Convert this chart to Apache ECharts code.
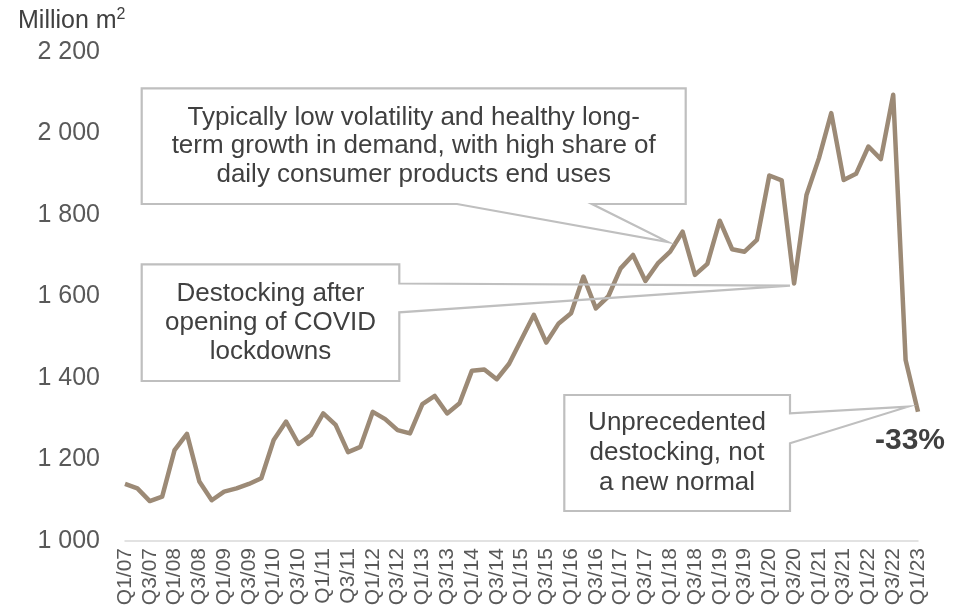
<!DOCTYPE html>
<html>
<head>
<meta charset="utf-8">
<script src="https://cdn.jsdelivr.net/npm/echarts@6/dist/echarts.min.js"></script>
<style>
html,body{margin:0;padding:0;background:#fff;}
#c{width:961px;height:614px;}
</style>
</head>
<body>
<div id="c"></div>
<script>
var categories = ['Q1/07','Q2/07','Q3/07','Q4/07','Q1/08','Q2/08','Q3/08','Q4/08',
'Q1/09','Q2/09','Q3/09','Q4/09','Q1/10','Q2/10','Q3/10','Q4/10',
'Q1/11','Q2/11','Q3/11','Q4/11','Q1/12','Q2/12','Q3/12','Q4/12',
'Q1/13','Q2/13','Q3/13','Q4/13','Q1/14','Q2/14','Q3/14','Q4/14',
'Q1/15','Q2/15','Q3/15','Q4/15','Q1/16','Q2/16','Q3/16','Q4/16',
'Q1/17','Q2/17','Q3/17','Q4/17','Q1/18','Q2/18','Q3/18','Q4/18',
'Q1/19','Q2/19','Q3/19','Q4/19','Q1/20','Q2/20','Q3/20','Q4/20',
'Q1/21','Q2/21','Q3/21','Q4/21','Q1/22','Q2/22','Q3/22','Q4/22','Q1/23'];

var demand = [1140,1129,1098,1109,1223,1263,1146,1100,
1121,1129,1140,1154,1248,1293,1238,1260,
1313,1285,1218,1231,1317,1299,1272,1264,
1336,1356,1313,1338,1418,1421,1397,1435,
1495,1555,1487,1534,1559,1649,1571,1600,
1669,1702,1638,1681,1710,1759,1653,1680,
1786,1716,1710,1739,1897,1885,1632,1849,
1939,2050,1886,1901,1968,1937,2095,1444,1317];

var yTickValues = [1000,1200,1400,1600,1800,2000,2200];
var yTickLabels = ['1 000','1 200','1 400','1 600','1 800','2 000','2 200'];

var unitLabel = 'Million m';
var note1 = 'Typically low volatility and healthy long-\nterm growth in demand, with high share of\ndaily consumer products end uses';
var note2 = 'Destocking after\nopening of COVID\nlockdowns';
var note3 = 'Unprecedented\ndestocking, not\na new normal';
var changeLabel = '-33%';

var FONT = '"Liberation Sans", Arial, sans-serif';
var chart = echarts.init(document.getElementById('c'), null, {renderer:'canvas'});

var boxStroke = '#bfbfbf';
var noteColor = '#404040';

var option = {
  animation:false,
  backgroundColor:'#ffffff',
  textStyle:{fontFamily:FONT},
  grid:{left:125, right:43, top:52, bottom:73, containLabel:false},
  xAxis:{
    type:'category',
    data:categories,
    boundaryGap:false,
    axisLine:{show:true, lineStyle:{color:'#d9d9d9', width:1.5}},
    axisTick:{show:false},
    axisLabel:{rotate:90, interval:1, margin:7, color:'#595959', fontSize:21, fontFamily:FONT},
    splitLine:{show:false}
  },
  yAxis:{
    type:'value',
    min:1000, max:2200, interval:200,
    axisLine:{show:false},
    axisTick:{show:false},
    splitLine:{show:false},
    axisLabel:{
      margin:25, color:'#595959', fontSize:25, fontFamily:FONT,
      formatter:function(v){ var k = yTickValues.indexOf(v); return k>=0 ? yTickLabels[k] : ''; }
    }
  },
  series:[{
    type:'line',
    data:demand,
    symbol:'none',
    smooth:false,
    lineStyle:{color:'#9c8a76', width:4.5, join:'round'},
    z:2
  }],
  graphic:[
    {type:'text', left:18, top:7, z:10,
      style:{rich:{a:{fontSize:25, lineHeight:28, fill:'#404040', fontFamily:FONT}, b:{fontSize:16, lineHeight:16, verticalAlign:'top', fill:'#404040', fontFamily:FONT}},
        text:'{a|'+unitLabel+'}{b|2}'}},
    {type:'polygon', z:10,
      shape:{points:[[141.7,88.3],[685.7,88.3],[685.7,204],[592,204],[668,242],[457,204],[141.7,204]]},
      style:{fill:'transparent', stroke:boxStroke, lineWidth:2.2}},
    {type:'text', z:11, x:413.7, y:146,
      style:{text:note1, textAlign:'center', textVerticalAlign:'middle', fontSize:26, lineHeight:28.5, fill:noteColor, fontFamily:FONT}},
    {type:'polygon', z:10,
      shape:{points:[[141.7,264.3],[399.3,264.3],[399.3,283.5],[790,285.7],[399.3,312.3],[399.3,381],[141.7,381]]},
      style:{fill:'transparent', stroke:boxStroke, lineWidth:2.2}},
    {type:'text', z:11, x:270.5, y:322.5,
      style:{text:note2, textAlign:'center', textVerticalAlign:'middle', fontSize:26, lineHeight:29, fill:noteColor, fontFamily:FONT}},
    {type:'polygon', z:10,
      shape:{points:[[564.3,395],[790,395],[790,413.3],[908,406.7],[790,443.3],[790,511],[564.3,511]]},
      style:{fill:'transparent', stroke:boxStroke, lineWidth:2.2}},
    {type:'text', z:11, x:677, y:453,
      style:{text:note3, textAlign:'center', textVerticalAlign:'middle', fontSize:26, lineHeight:30, fill:noteColor, fontFamily:FONT}},
    {type:'text', z:11, x:910, y:441,
      style:{text:changeLabel, textAlign:'center', textVerticalAlign:'middle', fontSize:30, fontWeight:'bold', fill:noteColor, fontFamily:FONT}}
  ]
};
chart.setOption(option);
</script>
</body>
</html>
